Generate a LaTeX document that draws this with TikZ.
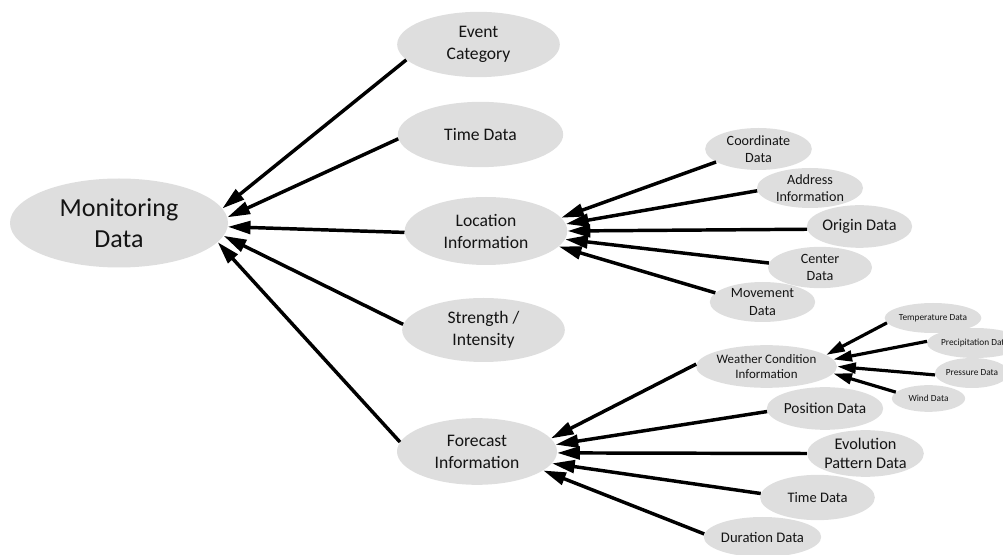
\documentclass[tikz,border=0pt]{standalone}
\usepackage{fontspec}
\setmainfont{Carlito}
\usetikzlibrary{arrows.meta,shapes.geometric}
\definecolor{bubble}{RGB}{222,222,222}
\definecolor{ink}{RGB}{20,20,20}
\tikzset{
  bub/.style 2 args={ellipse, fill=bubble, draw=none, minimum width=#1, minimum height=#2,
    inner sep=0pt, align=center, text=ink},
  link/.style={draw=black, line width=2.6pt, -{Triangle[length=17pt,width=9.5pt]}},
  smalllink/.style={draw=black, line width=2.4pt, -{Triangle[length=14pt,width=8pt]}},
  froot/.style={font=\fontsize{19.5}{23}\selectfont},
  fmain/.style={font=\fontsize{13.2}{16.5}\selectfont},
  fsub/.style={font=\fontsize{10.6}{12.8}\selectfont},
  fleaf/.style={font=\fontsize{7}{8.5}\selectfont},
}
\begin{document}
\begin{tikzpicture}[x=0.75pt,y=-0.75pt]
\useasboundingbox (0,0) rectangle (1003,555);

% root
\node[bub={163.5pt}{66.75pt}, froot] (md) at (119,223) {Monitoring\\Data};

% first level
\node[bub={122pt}{49pt}, fmain] (ec)  at (478.5,44.5) {Event\\Category};
\node[bub={124pt}{49pt}, fmain] (td)  at (480.5,134.5) {Time Data};
\node[bub={122pt}{51pt}, fmain] (loc) at (486,231) {Location\\Information};
\node[bub={122pt}{48pt}, fmain] (si)  at (483.5,330) {Strength /\\Intensity};
\node[bub={120pt}{50pt}, fmain] (fc)  at (477,451.5) {Forecast\\Information};

% location details
\node[bub={80pt}{31.5pt}, fsub] (coord) at (758.5,149) {Coordinate\\Data};
\node[bub={79.5pt}{30pt}, fsub] (addr)  at (810,188) {Address\\Information};
\node[bub={79pt}{32pt}, font=\fontsize{12.2}{14.5}\selectfont] (orig) at (859.5,226.5) {Origin Data};
\node[bub={78pt}{31pt}, fsub] (cent)  at (820,267.5) {Center\\Data};
\node[bub={79pt}{30pt}, fsub] (move)  at (762.5,302) {Movement\\Data};

% forecast details
\node[bub={85pt}{32pt}, font=\fontsize{9.7}{11.5}\selectfont] (wx) at (766.5,366.5) {Weather Condition\\Information};
\node[bub={85.5pt}{32pt}, font=\fontsize{11.5}{13.5}\selectfont] (pos) at (825,408.5) {Position Data};
\node[bub={86pt}{35pt}, font=\fontsize{12.2}{13.8}\selectfont] (evo) at (865.5,453.5) {Evolution\\Pattern Data};
\node[bub={86pt}{34pt}, font=\fontsize{10.9}{13}\selectfont] (ftime) at (817.5,497.5) {Time Data};
\node[bub={82pt}{30pt}, font=\fontsize{11}{13}\selectfont] (dur) at (762.5,537) {Duration Data};

% weather details
\node[bub={60pt}{22.5pt}, fleaf] (temp)  at (933,318) {Temperature Data};
\node[bub={60pt}{22.5pt}, fleaf] (prec)  at (975,343) {Precipitation Data};
\node[bub={54pt}{22.5pt}, fleaf] (pres)  at (972,373) {Pressure Data};
\node[bub={55pt}{20pt}, fleaf]   (wind)  at (928.5,398.5) {Wind Data};

% links into the root
\draw[link] (ec.192.7)  -- (md.8.6);
\draw[link] (td.183.2)  -- (md.3.2);
\draw[link] (loc.181.5) -- (md.-2.6);
\draw[link] (si.176.4)  -- (md.-7.5);
\draw[link] (fc.173)    -- (md.-11);

% links into location
\draw[link] (coord.197.1) -- (loc.10.3);
\draw[link] (addr.183.2)  -- (loc.5.5);
\draw[link] (orig.183.9)  -- (loc.-0.7);
\draw[link] (cent.175)    -- (loc.-6.9);
\draw[link] (move.169.5)  -- (loc.-12.8);

% links into forecast
\draw[link] (wx.178.4)    -- (fc.10.3);
\draw[link] (pos.183.5)   -- (fc.5.3);
\draw[link] (evo.180)     -- (fc.-1.7);
\draw[link] (ftime.176.4) -- (fc.-9.8);
\draw[link] (dur.177.9)   -- (fc.-16.1);

% links into weather
\draw[smalllink] (temp.186)   -- (wx.11.5);
\draw[smalllink] (prec.178.5) -- (wx.6.3);
\draw[smalllink] (pres.183.3) -- (wx.-0.5);
\draw[smalllink] (wind.169.6) -- (wx.-6.6);
\end{tikzpicture}
\end{document}
